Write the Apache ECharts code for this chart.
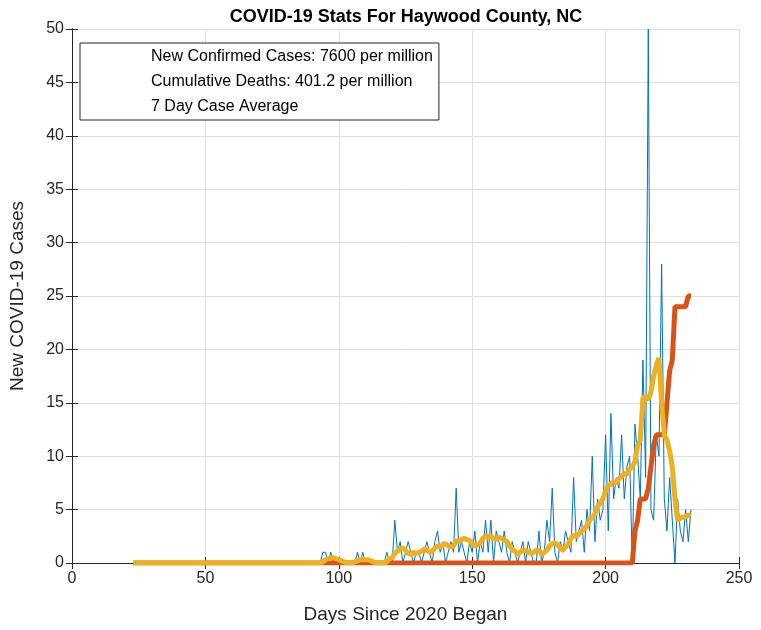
<!DOCTYPE html>
<html>
<head>
<meta charset="utf-8">
<script src="https://cdn.jsdelivr.net/npm/echarts@6/dist/echarts.min.js"></script>
<style>html,body{margin:0;padding:0;background:#fff}#c{width:761px;height:630px}</style>
</head>
<body>
<div id="c"></div>
<script>
// 数据 ==========================================
const firstDay = 23;
const activeDay = 90;
// days 23-89: all zero
const leadZeros = new Array(activeDay - firstDay).fill(0);

// daily new cases, days 90-232
const dailyCases = [
    0,0,0,0,1,1,0,1,0,0,
    0,0,0,0,0,0,0,1,0,1,
    0,0,0,0,0,0,0,0,1,0,
    0,4,1,2,0,1,2,1,0,1,
    1,0,1,2,1,0,2,3,1,2,
    0,1,2,1,7,1,2,1,0,2,
    1,3,0,2,1,4,1,4,0,3,
    2,1,3,1,0,2,1,0,1,2,
    0,2,1,0,0,3,0,1,4,2,
    7,1,0,2,1,3,2,1,8,2,
    3,4,1,5,3,10,2,6,4,5,
    12,3,14,6,8,7,12,6,9,10,
    0,13,10,6,19,8,50,5,4,12,
    10,28,6,3,8,4,0,6,3,2,
    5,2,5
];

// 7 day average, days 90-232
const weekAvg = [
    0,0,0,0,0.1,0.3,0.4,0.5,0.5,0.4,
    0.3,0.2,0.1,0,0,0,0.1,0.2,0.3,0.3,
    0.3,0.3,0.2,0.1,0,0,0,0,0.1,0.4,
    0.5,0.9,1.1,1.3,1.4,1.2,0.9,0.8,1.0,0.9,
    1.0,1.1,1.3,1.2,1.0,1.1,1.4,1.6,1.5,1.7,
    1.8,1.6,1.5,1.6,2.1,2.0,2.2,2.3,2.2,2.1,
    1.8,1.6,1.7,1.9,2.3,2.6,2.4,2.5,2.3,2.2,
    2.4,2.3,2.2,2.0,1.6,1.3,1.1,0.8,1.0,1.2,
    1.2,1.0,0.9,1.0,1.2,1.2,0.8,1.0,1.2,1.6,
    1.8,1.9,1.7,1.4,1.2,1.5,1.8,2.3,2.6,2.5,
    2.7,3.0,3.2,3.5,4.0,4.3,4.6,5.3,5.6,6.0,
    6.8,7.2,7.4,7.6,7.5,7.9,8.1,8.4,8.3,8.8,
    9.0,9.5,11.0,11.5,15.5,15.5,15.3,16.0,17.5,18.5,
    19.2,15.0,12.0,11.5,10.5,9.0,6.0,4.0,4.2,4.3,
    4.3,4.5,4.4
];

// cumulative deaths, days 210-232 (zero before)
const deathStart = 210;
const deaths = [0,3,4,6,6,6,7,9,11,12,12,12,12,15,18,19,24,24,24,24,24,25,25];

const legendNames = [
    'New Confirmed Cases: 7600 per million',
    'Cumulative Deaths: 401.2 per million',
    '7 Day Case Average'
];

// 工具函数 ==========================================
function toPairs(start, values) {
    return values.map((v, i) => [start + i, v]);
}

const casesAll = leadZeros.concat(dailyCases);
const avgAll = leadZeros.concat(weekAvg);
const deathsAll = new Array(deathStart - firstDay).fill(0).concat(deaths);

const chart = echarts.init(document.getElementById('c'));
const axisText = { color: '#262626', fontSize: 16, fontFamily: 'Liberation Sans' };

chart.setOption({
    animation: false,
    title: {
        text: 'COVID-19 Stats For Haywood County, NC',
        left: 401, top: 3, textAlign: 'center',
        textStyle: { fontSize: 18, fontWeight: 'bold', color: '#000', fontFamily: 'Liberation Sans' }
    },
    legend: {
        orient: 'vertical', left: 80, top: 43,
        padding: [5, 6, 5, 4],
        itemGap: 8, itemWidth: 62, itemHeight: 18,
        borderColor: '#262626', borderWidth: 1, backgroundColor: '#fff',
        textStyle: { fontSize: 16, color: '#000', fontFamily: 'Liberation Sans', width: 336 },
        icon: 'none',
        data: legendNames
    },
    grid: { left: 64, right: 22, top: 29, bottom: 67 },
    xAxis: [{
        type: 'value', min: 0, max: 250, interval: 50,
        name: 'Days Since 2020 Began', nameLocation: 'middle', nameGap: 42,
        nameTextStyle: { fontSize: 19, color: '#262626', fontFamily: 'Liberation Sans' },
        axisLine: { onZero: false, lineStyle: { color: '#262626' } },
        axisTick: { inside: true, length: 6, lineStyle: { color: '#262626' } },
        axisLabel: axisText,
        splitLine: { lineStyle: { color: '#dfdfdf' } }
    }, {
        type: 'value', position: 'top', min: 0, max: 250, interval: 50,
        axisLine: { lineStyle: { color: '#262626' } },
        axisTick: { inside: true, length: 6, lineStyle: { color: '#262626' } },
        axisLabel: { show: false }, splitLine: { show: false }
    }],
    yAxis: [{
        type: 'value', min: 0, max: 50, interval: 5,
        name: 'New COVID-19 Cases', nameLocation: 'middle', nameGap: 45,
        nameTextStyle: { fontSize: 19, color: '#262626', fontFamily: 'Liberation Sans' },
        axisLine: { show: true, onZero: false, lineStyle: { color: '#262626' } },
        axisTick: { show: true, inside: true, length: 6, lineStyle: { color: '#262626' } },
        axisLabel: axisText,
        splitLine: { lineStyle: { color: '#dfdfdf' } }
    }, {
        type: 'value', position: 'right', min: 0, max: 50, interval: 5,
        axisLine: { show: true, lineStyle: { color: '#262626' } },
        axisTick: { show: true, inside: true, length: 6, lineStyle: { color: '#262626' } },
        axisLabel: { show: false }, splitLine: { show: false }
    }],
    series: [{
        name: legendNames[0], type: 'line', data: toPairs(firstDay, casesAll),
        showSymbol: false, symbol: 'none', color: '#0072BD', lineStyle: { width: 1, color: '#0072BD' }
    }, {
        name: legendNames[1], type: 'line', data: toPairs(firstDay, deathsAll),
        showSymbol: false, symbol: 'none', color: '#D95319', lineStyle: { width: 5, color: '#D95319' }
    }, {
        name: legendNames[2], type: 'line', data: toPairs(firstDay, avgAll),
        showSymbol: false, symbol: 'none', color: '#EDB120', lineStyle: { width: 5, color: '#EDB120' }
    }]
});
</script>
</body>
</html>
